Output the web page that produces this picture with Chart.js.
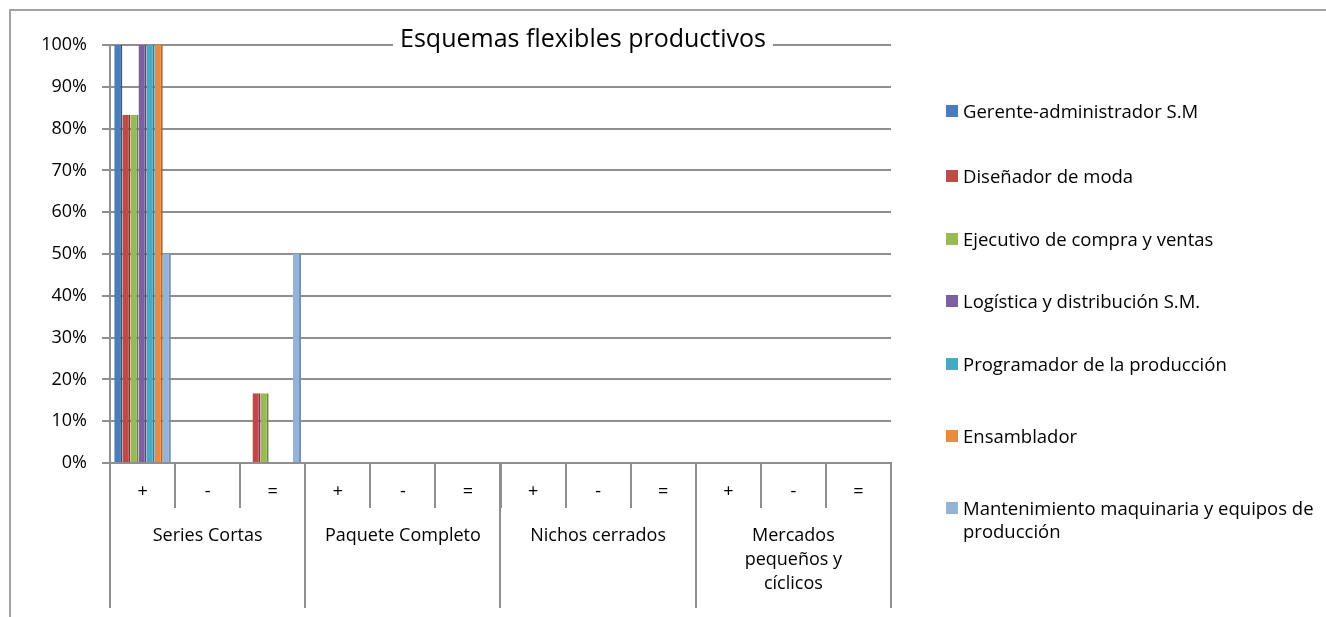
<!DOCTYPE html>
<html>
<head>
<meta charset="utf-8">
<title>Esquemas flexibles productivos</title>
<script src="https://cdn.jsdelivr.net/npm/chart.js@4.4.0/dist/chart.umd.min.js"></script>
<style>
    body {
        margin: 0;
        background: #fff;
        width: 1326px;
        height: 617px;
        overflow: hidden;
        position: relative;
        font-family: "Open Sans", sans-serif;
    }
    #frame {
        position: absolute;
        left: 9px;
        top: 9px;
        width: 1400px;
        height: 700px;
        border-left: 2px solid #a3a3a3;
        border-top: 2px solid #a3a3a3;
    }
    #myChart {
        position: absolute;
        left: 0;
        top: 0;
    }
    #legend {
        position: absolute;
        left: 946px;
        top: 0;
    }
    .legend-item {
        position: absolute;
        left: 0;
        display: flex;
        align-items: flex-start;
        width: 375px;
        font-size: 18.5px;
        line-height: 23px;
        color: #000;
    }
    .legend-box {
        width: 12px;
        height: 12px;
        margin-top: 6px;
        margin-right: 5px;
        flex: none;
    }
</style>
</head>
<body>
<div id="frame"></div>
<canvas id="myChart" width="1326" height="617"></canvas>
<div id="legend"></div>

<script>
// datos
let categories = ["+", "-", "=", "+", "-", "=", "+", "-", "=", "+", "-", "="];
let groups = [["Series Cortas"], ["Paquete Completo"], ["Nichos cerrados"], ["Mercados", "pequeños y", "cíclicos"]];
let seriesNames = [
    "Gerente-administrador S.M",
    "Diseñador de moda",
    "Ejecutivo de compra y ventas",
    "Logística y distribución S.M.",
    "Programador de la producción",
    "Ensamblador",
    "Mantenimiento maquinaria y equipos de producción",
];
let gerente       = [100, 0, 0,    0, 0, 0, 0, 0, 0, 0, 0, 0];
let disenador     = [83.3, 0, 16.7, 0, 0, 0, 0, 0, 0, 0, 0, 0];
let ejecutivo     = [83.3, 0, 16.7, 0, 0, 0, 0, 0, 0, 0, 0, 0];
let logistica     = [100, 0, 0,    0, 0, 0, 0, 0, 0, 0, 0, 0];
let programador   = [100, 0, 0,    0, 0, 0, 0, 0, 0, 0, 0, 0];
let ensamblador   = [100, 0, 0,    0, 0, 0, 0, 0, 0, 0, 0, 0];
let mantenimiento = [50, 0, 50,    0, 0, 0, 0, 0, 0, 0, 0, 0];
let chartTitle = "Esquemas flexibles productivos";

let seriesValues = [gerente, disenador, ejecutivo, logistica, programador, ensamblador, mantenimiento];
let faceColors = ["#4a7ebb", "#be4b48", "#98b954", "#7d60a0", "#46aac5", "#ea8a3e", "#95b3d7"];
let sideColors = ["#2f5686", "#8a3533", "#6e873d", "#5a4576", "#327c90", "#b2672c", "#7191b8"];

let gridColor = "#8f8f8f";
let fontFamily = "'Open Sans', sans-serif";

// titolo sopra la griglia, con sfondo bianco
let titlePlugin = {
    id: "titleOnGrid",
    afterDraw(chart) {
        let ctx = chart.ctx;
        ctx.save();
        ctx.font = "25px " + fontFamily;
        let w = ctx.measureText(chartTitle).width;
        let cx = 583, cy = 40;
        ctx.fillStyle = "#fff";
        ctx.fillRect(cx - w / 2 - 7, cy - 16, w + 14, 30);
        ctx.fillStyle = "#000";
        ctx.textAlign = "center";
        ctx.textBaseline = "middle";
        ctx.fillText(chartTitle, cx, cy);
        ctx.restore();
    }
};

// secondo livello dell'asse x (gruppi)
let groupAxisPlugin = {
    id: "groupAxis",
    afterDraw(chart) {
        let x = chart.scales.x;
        let ctx = chart.ctx;
        let top = chart.chartArea.bottom;
        let step = x.getPixelForValue(1) - x.getPixelForValue(0);
        ctx.save();
        ctx.strokeStyle = gridColor;
        ctx.lineWidth = 2;
        for (let g = 0; g <= groups.length; g++) {
            let px = Math.round(x.getPixelForValue(g * 3) - step / 2);
            ctx.beginPath();
            ctx.moveTo(px, top);
            ctx.lineTo(px, 608);
            ctx.stroke();
        }
        ctx.fillStyle = "#000";
        ctx.font = "18px " + fontFamily;
        ctx.textAlign = "center";
        ctx.textBaseline = "middle";
        groups.forEach((lines, g) => {
            let cx = x.getPixelForValue(g * 3 + 1);
            lines.forEach((line, i) => {
                ctx.fillText(line, cx, 536 + i * 24);
            });
        });
        ctx.restore();
    }
};

let ctx = document.getElementById("myChart").getContext("2d");

let myChart = new Chart(ctx, {
    type: "bar",
    data: {
        labels: categories,
        datasets: seriesValues.map((values, i) => ({
            label: seriesNames[i],
            data: values,
            backgroundColor: faceColors[i],
            borderColor: sideColors[i],
            borderWidth: { top: 0, left: 0, bottom: 0, right: 2 },
            borderSkipped: false,
            categoryPercentage: 0.87,
            barPercentage: 1.0,
        })),
    },
    options: {
        responsive: false,
        animation: false,
        layout: {
            padding: { top: 45, right: 435, bottom: 0, left: 0 },
        },
        scales: {
            x: {
                grid: {
                    offset: true,
                    drawOnChartArea: false,
                    color: gridColor,
                    lineWidth: 2,
                    tickLength: 45,
                },
                border: { display: true, color: gridColor, width: 2 },
                ticks: {
                    autoSkip: false,
                    maxRotation: 0,
                    padding: -27,
                    color: "#000",
                    font: { family: fontFamily, size: 18 },
                },
                afterFit(scale) {
                    scale.height = 154;
                },
            },
            y: {
                min: 0,
                max: 100,
                ticks: {
                    stepSize: 10,
                    padding: 15,
                    color: "#000",
                    font: { family: fontFamily, size: 18 },
                    callback: (v) => v + "%",
                },
                grid: {
                    color: gridColor,
                    lineWidth: 2,
                    tickLength: 8,
                },
                border: { display: true, color: gridColor, width: 2 },
                afterFit(scale) {
                    scale.width = 110;
                },
            },
        },
        plugins: {
            legend: { display: false },
            tooltip: { enabled: false },
        },
    },
    plugins: [titlePlugin, groupAxisPlugin],
});

// legenda html (serve per andare a capo nell'ultima voce)
let legendTops = [110, 175, 238, 300, 363, 435, 507];
let legendBox = document.querySelector("#legend");
myChart.data.datasets.forEach((ds, i) => {
    let item = document.createElement("div");
    item.className = "legend-item";
    item.style.top = (legendTops[i] - 11.5) + "px";
    let box = document.createElement("span");
    box.className = "legend-box";
    box.style.background = ds.backgroundColor;
    let text = document.createElement("span");
    text.textContent = ds.label;
    item.appendChild(box);
    item.appendChild(text);
    legendBox.appendChild(item);
});
</script>
</body>
</html>
